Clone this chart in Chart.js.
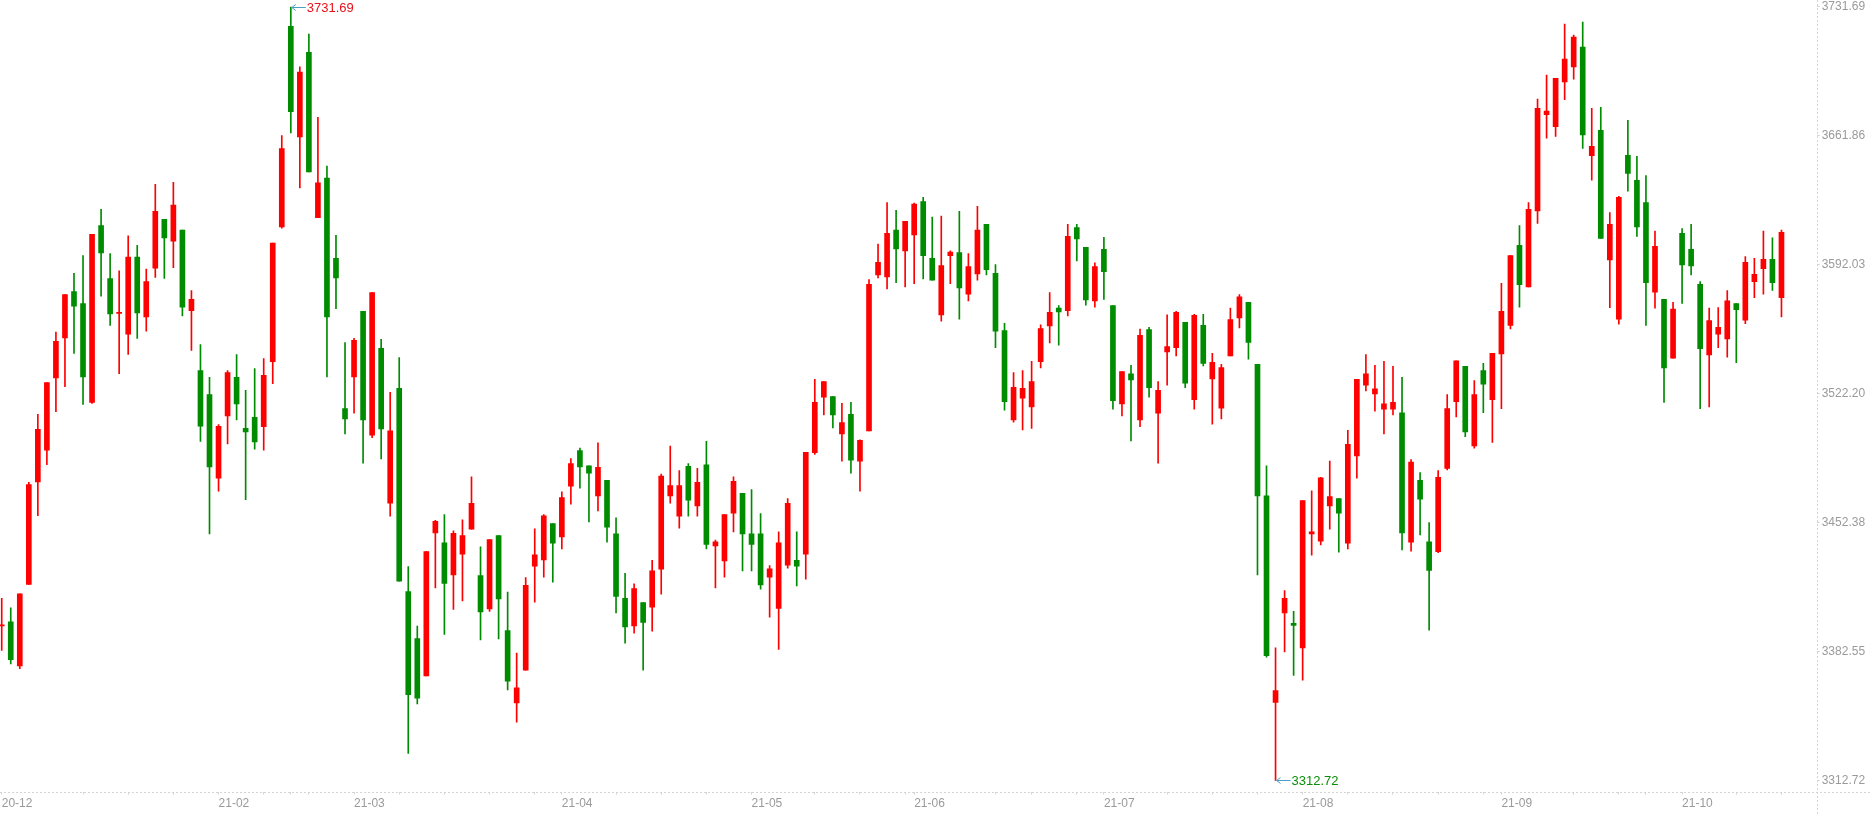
<!DOCTYPE html>
<html>
<head>
<meta charset="utf-8">
<title>K-line</title>
<script src="https://cdn.jsdelivr.net/npm/chart.js@4.4.0/dist/chart.umd.min.js"></script>
<style>
  html, body { margin: 0; padding: 0; background: #fff; }
  #wrap { position: relative; width: 1870px; height: 815px; }
</style>
</head>
<body>
<div id="wrap"><canvas id="kline"></canvas></div>
<script>
// trading days shown on the chart
const dates = [
  '2020-12-28','2020-12-29','2020-12-30','2020-12-31',
  '2021-01-04','2021-01-05','2021-01-06','2021-01-07','2021-01-08','2021-01-11','2021-01-12','2021-01-13','2021-01-14','2021-01-15',
  '2021-01-18','2021-01-19','2021-01-20','2021-01-21','2021-01-22','2021-01-25','2021-01-26','2021-01-27','2021-01-28','2021-01-29',
  '2021-02-01','2021-02-02','2021-02-03','2021-02-04','2021-02-05','2021-02-08','2021-02-09','2021-02-10','2021-02-18','2021-02-19',
  '2021-02-22','2021-02-23','2021-02-24','2021-02-25','2021-02-26',
  '2021-03-01','2021-03-02','2021-03-03','2021-03-04','2021-03-05','2021-03-08','2021-03-09','2021-03-10','2021-03-11','2021-03-12',
  '2021-03-15','2021-03-16','2021-03-17','2021-03-18','2021-03-19','2021-03-22','2021-03-23','2021-03-24','2021-03-25','2021-03-26',
  '2021-03-29','2021-03-30','2021-03-31',
  '2021-04-01','2021-04-02','2021-04-06','2021-04-07','2021-04-08','2021-04-09','2021-04-12','2021-04-13','2021-04-14','2021-04-15',
  '2021-04-16','2021-04-19','2021-04-20','2021-04-21','2021-04-22','2021-04-23','2021-04-26','2021-04-27','2021-04-28','2021-04-29','2021-04-30',
  '2021-05-06','2021-05-07','2021-05-10','2021-05-11','2021-05-12','2021-05-13','2021-05-14','2021-05-17','2021-05-18','2021-05-19',
  '2021-05-20','2021-05-21','2021-05-24','2021-05-25','2021-05-26','2021-05-27','2021-05-28','2021-05-31',
  '2021-06-01','2021-06-02','2021-06-03','2021-06-04','2021-06-07','2021-06-08','2021-06-09','2021-06-10','2021-06-11','2021-06-15',
  '2021-06-16','2021-06-17','2021-06-18','2021-06-21','2021-06-22','2021-06-23','2021-06-24','2021-06-25','2021-06-28','2021-06-29','2021-06-30',
  '2021-07-01','2021-07-02','2021-07-05','2021-07-06','2021-07-07','2021-07-08','2021-07-09','2021-07-12','2021-07-13','2021-07-14',
  '2021-07-15','2021-07-16','2021-07-19','2021-07-20','2021-07-21','2021-07-22','2021-07-23','2021-07-26','2021-07-27','2021-07-28',
  '2021-07-29','2021-07-30',
  '2021-08-02','2021-08-03','2021-08-04','2021-08-05','2021-08-06','2021-08-09','2021-08-10','2021-08-11','2021-08-12','2021-08-13',
  '2021-08-16','2021-08-17','2021-08-18','2021-08-19','2021-08-20','2021-08-23','2021-08-24','2021-08-25','2021-08-26','2021-08-27',
  '2021-08-30','2021-08-31',
  '2021-09-01','2021-09-02','2021-09-03','2021-09-06','2021-09-07','2021-09-08','2021-09-09','2021-09-10','2021-09-13','2021-09-14',
  '2021-09-15','2021-09-16','2021-09-17','2021-09-22','2021-09-23','2021-09-24','2021-09-27','2021-09-28','2021-09-29','2021-09-30',
  '2021-10-08','2021-10-11','2021-10-12','2021-10-13','2021-10-14','2021-10-15','2021-10-18','2021-10-19','2021-10-20','2021-10-21',
  '2021-10-22','2021-10-25'
];

const openPrices = [
  3396.41,3398.67,3374.72,3418.95,3474.46,3491.64,3530.81,3552.50,3577.58,3571.10,
  3517.56,3613.36,3584.62,3565.74,3554.47,3596.17,3563.77,3590.26,3616.74,3604.91,
  3610.82,3567.15,3534.75,3521.79,3476.43,3510.24,3531.09,3503.48,3509.39,3504.32,
  3539.54,3612.51,3721.27,3661.26,3707.18,3617.58,3639.00,3595.61,3514.18,3531.37,
  3566.87,3499.81,3546.87,3462.90,3525.17,3415.01,3389.65,3369.36,3446.84,3441.49,
  3424.02,3435.29,3448.82,3423.74,3405.71,3445.44,3393.88,3354.71,3372.46,3428.81,
  3432.19,3451.92,3444.59,3472.20,3491.36,3483.19,3466.85,3475.30,3446.28,3411.34,
  3396.41,3409.09,3406.55,3427.12,3466.85,3455.86,3482.91,3461.50,3483.75,3439.80,
  3431.63,3457.55,3468.26,3446.28,3446.28,3422.90,3405.99,3429.38,3431.91,3435.29,
  3490.23,3520.38,3520.66,3500.38,3511.08,3485.73,3502.07,3586.59,3585.47,3610.82,
  3599.55,3608.29,3626.32,3595.61,3564.90,3597.02,3598.71,3576.17,3587.16,3613.92,
  3587.44,3556.45,3507.98,3519.82,3515.03,3539.54,3558.98,3568.56,3567.15,3612.23,
  3601.53,3572.50,3600.40,3569.97,3516.72,3533.06,3507.98,3557.01,3511.65,3544.89,
  3547.15,3560.95,3518.97,3559.26,3530.24,3514.46,3542.64,3563.21,3571.66,3538.13,
  3466.85,3354.99,3403.45,3397.82,3384.58,3446.28,3442.34,3461.50,3465.44,3441.21,
  3488.54,3526.86,3522.07,3513.90,3513.90,3511.93,3441.77,3475.30,3442.05,3436.70,
  3481.78,3517.85,3537.00,3493.90,3534.75,3518.97,3543.77,3559.26,3602.65,3580.11,
  3621.25,3673.37,3666.89,3691.12,3699.29,3710.00,3651.11,3664.92,3594.76,3562.64,
  3651.39,3637.87,3625.76,3577.29,3573.35,3541.51,3609.13,3600.40,3581.52,3543.20,
  3554.47,3551.94,3571.10,3562.08,3582.93,3589.97,3595.04,3574.20
];

const highPrices = [
  3411.34,3406.27,3413.88,3474.17,3511.08,3528.27,3555.60,3575.89,3587.44,3597.02,
  3608.57,3622.09,3598.14,3588.85,3607.72,3602.65,3589.69,3635.62,3616.74,3636.74,
  3610.82,3578.14,3548.84,3531.09,3505.45,3534.75,3543.48,3524.04,3535.88,3541.23,
  3603.78,3662.10,3731.69,3699.29,3717.04,3671.96,3645.48,3608.01,3549.96,3552.22,
  3566.87,3577.01,3551.66,3522.92,3541.79,3428.53,3396.41,3436.70,3453.61,3456.71,
  3447.97,3453.89,3477.27,3439.24,3443.18,3445.44,3414.72,3381.76,3422.61,3449.10,
  3456.71,3451.92,3469.10,3487.13,3492.77,3483.19,3495.59,3475.30,3455.02,3424.87,
  3419.23,3409.09,3431.91,3478.68,3493.90,3480.65,3484.32,3481.78,3496.43,3442.90,
  3456.71,3477.27,3468.26,3470.23,3457.27,3429.09,3447.41,3465.44,3447.41,3490.52,
  3529.96,3528.83,3520.66,3517.00,3517.56,3497.28,3584.06,3603.22,3625.76,3621.53,
  3615.61,3625.47,3628.57,3617.87,3618.43,3599.55,3620.97,3598.14,3623.78,3613.92,
  3592.23,3560.39,3533.62,3534.75,3539.82,3559.54,3577.01,3569.97,3613.92,3613.92,
  3601.53,3593.07,3606.88,3569.97,3534.19,3537.57,3557.29,3558.14,3528.83,3564.90,
  3566.87,3560.95,3565.18,3565.18,3544.05,3538.13,3568.56,3575.89,3571.66,3538.13,
  3483.19,3384.58,3415.57,3404.30,3464.31,3469.67,3476.99,3485.73,3465.44,3502.35,
  3529.96,3543.48,3537.57,3539.82,3537.00,3531.09,3486.57,3479.53,3452.48,3480.65,
  3521.79,3540.10,3537.00,3529.40,3538.69,3544.05,3582.08,3597.02,3613.36,3625.76,
  3681.82,3694.78,3693.09,3722.40,3716.48,3723.52,3676.75,3677.32,3620.40,3629.14,
  3670.27,3650.83,3640.41,3610.26,3573.35,3571.66,3611.67,3613.92,3582.93,3568.56,
  3568.84,3578.14,3571.10,3596.45,3595.61,3610.26,3606.60,3610.82
];

const lowPrices = [
  3383.17,3375.84,3373.31,3418.95,3456.14,3483.75,3512.49,3526.02,3544.05,3516.44,
  3517.00,3575.04,3559.26,3533.06,3543.48,3552.22,3556.16,3585.18,3584.62,3590.54,
  3564.33,3545.74,3496.43,3446.28,3469.38,3495.02,3507.98,3464.88,3492.21,3491.64,
  3527.71,3611.95,3663.51,3633.64,3642.38,3617.58,3531.37,3568.28,3500.38,3511.65,
  3484.60,3498.40,3486.85,3455.86,3420.64,3327.38,3354.15,3369.36,3416.98,3391.90,
  3405.43,3409.94,3448.82,3388.80,3404.30,3389.37,3361.76,3344.29,3372.46,3409.37,
  3422.90,3420.08,3438.11,3462.34,3471.07,3452.76,3458.68,3441.77,3403.45,3387.11,
  3392.47,3372.46,3393.59,3413.60,3462.90,3449.38,3455.86,3455.86,3438.11,3416.98,
  3422.90,3447.41,3426.28,3426.28,3416.42,3401.20,3383.73,3427.69,3418.11,3421.77,
  3489.39,3510.80,3503.76,3485.73,3479.25,3469.38,3502.07,3584.90,3578.99,3582.37,
  3580.11,3581.80,3584.34,3583.77,3561.52,3581.80,3562.64,3572.50,3583.77,3586.59,
  3547.15,3513.34,3506.86,3502.63,3503.48,3536.16,3549.68,3548.56,3564.33,3594.20,
  3570.25,3569.12,3573.35,3513.90,3510.24,3496.71,3504.32,3520.38,3484.60,3526.86,
  3542.64,3525.45,3513.90,3537.29,3505.73,3508.55,3542.64,3557.85,3540.95,3424.02,
  3379.51,3312.72,3382.32,3369.64,3367.11,3434.73,3440.36,3448.82,3436.42,3438.11,
  3476.43,3523.76,3512.77,3500.38,3510.80,3437.55,3436.98,3445.72,3394.16,3436.14,
  3480.94,3509.67,3498.97,3492.77,3511.93,3495.87,3514.18,3557.29,3569.12,3580.11,
  3614.49,3660.69,3661.54,3681.54,3692.53,3655.06,3637.87,3606.31,3568.84,3559.83,
  3631.95,3607.44,3559.26,3568.56,3517.56,3541.51,3571.10,3586.59,3514.18,3515.03,
  3547.15,3542.08,3538.98,3560.11,3574.20,3576.17,3578.14,3563.77
];

const closePrices = [
  3396.97,3378.10,3413.88,3473.05,3502.91,3528.27,3550.53,3575.89,3569.69,3531.37,
  3608.57,3598.43,3565.46,3566.31,3596.17,3566.02,3582.93,3620.97,3606.60,3624.35,
  3569.12,3573.35,3504.60,3482.63,3504.60,3533.62,3516.72,3501.50,3496.15,3532.21,
  3603.78,3655.06,3675.06,3696.47,3642.38,3636.46,3563.77,3584.90,3508.55,3551.09,
  3507.98,3577.01,3503.19,3502.07,3420.64,3359.22,3357.25,3436.70,3453.04,3419.51,
  3446.56,3445.44,3462.90,3404.02,3443.18,3411.06,3366.55,3362.88,3418.39,3435.01,
  3456.14,3441.21,3466.00,3484.32,3482.63,3479.25,3482.34,3449.94,3412.47,3395.85,
  3416.70,3398.38,3426.28,3477.56,3472.48,3472.48,3464.59,3474.17,3440.65,3442.05,
  3456.71,3474.74,3446.28,3440.65,3418.67,3427.40,3441.49,3462.90,3428.81,3490.52,
  3517.56,3528.83,3510.80,3506.58,3486.29,3497.00,3581.52,3593.35,3609.13,3600.68,
  3615.61,3624.91,3597.02,3583.77,3591.66,3598.99,3579.55,3591.10,3610.82,3589.41,
  3556.16,3517.85,3525.73,3525.17,3528.83,3557.57,3566.31,3566.59,3607.44,3606.03,
  3573.07,3591.10,3588.28,3518.41,3534.19,3529.68,3553.91,3525.45,3524.04,3547.71,
  3566.31,3527.99,3564.62,3538.69,3539.26,3536.44,3562.36,3574.76,3549.96,3466.85,
  3380.35,3361.47,3411.34,3396.69,3464.31,3447.41,3476.71,3466.57,3457.55,3494.74,
  3529.96,3533.06,3524.89,3516.72,3517.56,3446.84,3485.16,3465.16,3426.56,3476.99,
  3514.18,3540.10,3501.50,3521.79,3527.42,3544.05,3566.87,3597.02,3581.24,3622.09,
  3676.75,3675.34,3693.09,3703.52,3715.35,3662.38,3656.18,3606.31,3613.92,3628.57,
  3641.53,3612.51,3582.37,3602.09,3536.16,3568.00,3591.95,3591.38,3546.58,3561.80,
  3558.14,3572.50,3567.72,3593.35,3586.87,3595.04,3582.37,3609.70
];

// price axis labels
const yTickValues = [3312.72, 3382.55, 3452.38, 3522.20, 3592.03, 3661.86, 3731.69];

const UP_COLOR = '#ff0000';
const DOWN_COLOR = '#008c00';
const AXIS_COLOR = '#d4d4d4';
const LABEL_COLOR = '#9a9a9a';
const FONT = "'Liberation Sans', Arial, sans-serif";

// month labels ('YY-MM') on the first trading day of a month, skipped when too close
const monthLabels = {};
let lastLabelIdx = -100;
dates.forEach((d, i) => {
  if (i === 0 || d.slice(0, 7) !== dates[i - 1].slice(0, 7)) {
    if (i - lastLabelIdx >= 6) {
      monthLabels[i] = d.slice(2, 7);
      lastLabelIdx = i;
    }
  }
});

// small tick marks on the first trading day of each week
function dayOfWeek(d) {
  return new Date(d + 'T00:00:00Z').getUTCDay();
}
const xTickIdx = [];
let labelIdx = -100;
dates.forEach((d, i) => {
  if (monthLabels[i] !== undefined) {
    xTickIdx.push(i);
    labelIdx = i;
    return;
  }
  const gap = i === 0 ? 99 : (new Date(d) - new Date(dates[i - 1])) / 86400000;
  const weekStart = i === 0 || gap >= 7 || dayOfWeek(d) <= dayOfWeek(dates[i - 1]);
  if (weekStart && i - labelIdx > 4) {
    xTickIdx.push(i);
  }
});

const candleColor = ctx => {
  const i = ctx.dataIndex;
  return closePrices[i] >= openPrices[i] ? UP_COLOR : DOWN_COLOR;
};

const bodyData = dates.map((d, i) => ({ x: i, y: [openPrices[i], closePrices[i]] }));
const wickData = dates.map((d, i) => ({ x: i, y: [lowPrices[i], highPrices[i]] }));

// max / min markers and the dotted frame lines
const markerPlugin = {
  id: 'markers',
  afterDatasetsDraw(chart) {
    const ctx = chart.ctx;
    const xs = chart.scales.x;
    const ys = chart.scales.y;

    let hi = 0, lo = 0;
    highPrices.forEach((v, i) => { if (v > highPrices[hi]) hi = i; });
    lowPrices.forEach((v, i) => { if (v < lowPrices[lo]) lo = i; });

    const drawMarker = (idx, value, color) => {
      const x = xs.getPixelForValue(idx);
      const y = Math.round(ys.getPixelForValue(value)) + 0.5;
      ctx.save();
      ctx.strokeStyle = '#4a9fc8';
      ctx.lineWidth = 1;
      ctx.beginPath();
      ctx.moveTo(x + 1, y);
      ctx.lineTo(x + 15, y);
      ctx.moveTo(x + 5, y - 3);
      ctx.lineTo(x + 1, y);
      ctx.lineTo(x + 5, y + 3);
      ctx.stroke();
      ctx.fillStyle = color;
      ctx.font = '13px ' + FONT;
      ctx.textAlign = 'left';
      ctx.textBaseline = 'middle';
      ctx.fillText(value.toFixed(2), x + 16, y + 0.5);
      ctx.restore();
    };
    drawMarker(hi, highPrices[hi], '#e8101a');
    drawMarker(lo, lowPrices[lo], '#0a8f0a');
  },
  afterDraw(chart) {
    const ctx = chart.ctx;
    const area = chart.chartArea;
    ctx.save();
    ctx.strokeStyle = AXIS_COLOR;
    ctx.lineWidth = 1;
    ctx.setLineDash([2, 2]);
    const yLine = Math.round(area.bottom) + 0.5;
    const xLine = Math.round(area.right) + 0.5;
    ctx.beginPath();
    ctx.moveTo(0, yLine);
    ctx.lineTo(chart.width, yLine);
    ctx.moveTo(xLine, 0);
    ctx.lineTo(xLine, chart.height);
    ctx.stroke();
    ctx.restore();
  }
};

new Chart(document.getElementById('kline'), {
  type: 'bar',
  data: {
    datasets: [{
      label: 'wick',
      data: wickData,
      backgroundColor: candleColor,
      barThickness: 1,
      grouped: false,
      order: 2,
      borderWidth: 0
    }, {
      label: 'body',
      data: bodyData,
      backgroundColor: candleColor,
      barThickness: 5,
      minBarLength: 1,
      grouped: false,
      order: 1,
      borderWidth: 0
    }]
  },
  options: {
    responsive: true,
    maintainAspectRatio: false,
    animation: false,
    devicePixelRatio: 1,
    layout: { padding: 0 },
    plugins: {
      legend: { display: false },
      tooltip: { enabled: false }
    },
    scales: {
      x: {
        type: 'linear',
        min: -0.19,
        max: 200.9,
        offset: false,
        bounds: 'data',
        border: { display: false },
        grid: {
          display: true,
          offset: false,
          drawOnChartArea: false,
          drawTicks: true,
          tickLength: 3,
          color: AXIS_COLOR
        },
        ticks: {
          autoSkip: false,
          maxRotation: 0,
          align: 'start',
          padding: 2,
          color: LABEL_COLOR,
          font: { family: FONT, size: 12 },
          callback: value => monthLabels[value] || ''
        },
        afterBuildTicks: scale => {
          scale.ticks = xTickIdx.map(i => ({ value: i }));
        },
        afterFit: scale => {
          scale.height = 23.5;
          scale.paddingLeft = 0;
          scale.paddingRight = 0;
        }
      },
      y: {
        type: 'linear',
        position: 'right',
        min: 3306.76,
        max: 3735.48,
        bounds: 'data',
        border: { display: false },
        grid: {
          display: true,
          drawOnChartArea: false,
          drawTicks: true,
          tickLength: 3,
          color: AXIS_COLOR
        },
        ticks: {
          padding: 2,
          color: LABEL_COLOR,
          font: { family: FONT, size: 12 },
          callback: value => value.toFixed(2)
        },
        afterBuildTicks: scale => {
          scale.ticks = yTickValues.map(v => ({ value: v }));
        },
        afterFit: scale => {
          scale.width = 53.3;
          scale.paddingTop = 0;
          scale.paddingBottom = 0;
        }
      }
    }
  },
  plugins: [markerPlugin]
});
</script>
</body>
</html>
